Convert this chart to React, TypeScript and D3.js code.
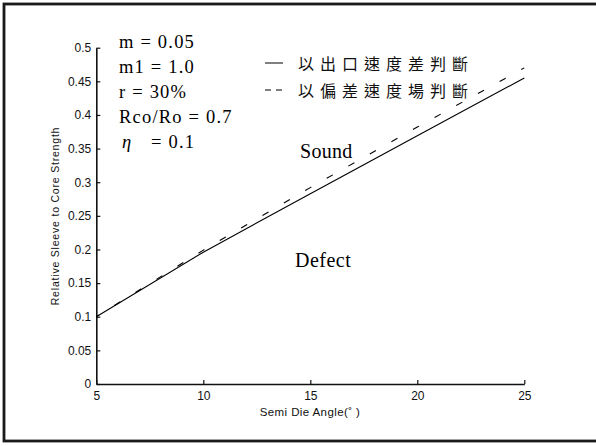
import { useEffect, useRef } from "react";
import * as d3 from "d3";

const angles = [5, 10, 15, 20, 25];
const outletSpeedDiff = [0.1, 0.196, 0.283, 0.369, 0.455];
const deviationField = [0.1, 0.199, 0.292, 0.382, 0.47];
const xTicks = [5, 10, 15, 20, 25];
const yTicks = [0, 0.05, 0.1, 0.15, 0.2, 0.25, 0.3, 0.35, 0.4, 0.45, 0.5];
const params = ["m = 0.05", "m1 = 1.0", "r = 30%", "Rco/Ro = 0.7"];
const legendLabels = ["以出口速度差判斷", "以偏差速度場判斷"];

const serif = "'Liberation Serif', 'Times New Roman', serif";
const sans = "'Liberation Sans', Arial, sans-serif";
const cjk = "'Noto Sans CJK TC', 'Noto Sans CJK SC', sans-serif";

const App = () => {
  const ref = useRef<SVGSVGElement>(null);

  useEffect(() => {
    d3.select(ref.current).selectAll("*").remove();
    const width = 596;
    const height = 446;
    const svg = d3.select(ref.current).attr("width", width).attr("height", height);

    svg.append("rect").attr("width", width).attr("height", height).attr("fill", "#fff");

    // outer frame (right side runs off the picture)
    svg
      .append("rect")
      .attr("x", 4)
      .attr("y", 4)
      .attr("width", 640)
      .attr("height", 437)
      .attr("fill", "none")
      .attr("stroke", "#1a1a1a")
      .attr("stroke-width", 2.8);

    const x = d3.scaleLinear().domain([5, 25]).range([96.3, 524.3]);
    const y = d3.scaleLinear().domain([0, 0.5]).range([384, 47.7]);

    const xAxis = svg
      .append("g")
      .attr("transform", `translate(0,${y(0)})`)
      .call(d3.axisBottom(x).tickValues(xTicks).tickSize(-4).tickSizeOuter(0).tickPadding(7));
    const yAxis = svg
      .append("g")
      .attr("transform", `translate(${x(5)},0)`)
      .call(
        d3
          .axisLeft(y)
          .tickValues(yTicks)
          .tickSize(-4)
          .tickSizeOuter(0)
          .tickPadding(5)
          .tickFormat((d) => String(+d))
      );
    [xAxis, yAxis].forEach((a) => {
      a.select(".domain").attr("stroke", "#111").attr("stroke-width", 1.6);
      a.selectAll(".tick line").attr("stroke", "#111").attr("stroke-width", 1.2);
      a.selectAll(".tick text")
        .attr("fill", "#111")
        .style("font-family", sans)
        .style("font-size", "12px");
    });

    svg
      .append("text")
      .attr("x", 310)
      .attr("y", 416)
      .attr("text-anchor", "middle")
      .style("font-family", sans)
      .style("font-size", "11.5px")
      .style("letter-spacing", "0.4px")
      .attr("fill", "#111")
      .text("Semi Die Angle(˚ )");

    svg
      .append("text")
      .attr("transform", `translate(59,216) rotate(-90)`)
      .attr("text-anchor", "middle")
      .style("font-family", sans)
      .style("font-size", "10.5px")
      .style("letter-spacing", "0.8px")
      .attr("fill", "#111")
      .text("Relative Sleeve to Core Strength");

    const line = d3
      .line<number>()
      .x((_, i) => x(angles[i]))
      .y((d) => y(d));

    svg
      .append("path")
      .datum(outletSpeedDiff)
      .attr("d", line)
      .attr("fill", "none")
      .attr("stroke", "#000")
      .attr("stroke-width", 1.1);

    const dashed = svg
      .append("path")
      .datum(deviationField)
      .attr("d", line)
      .attr("fill", "none")
      .attr("stroke", "#000")
      .attr("stroke-width", 1.1);
    const node = dashed.node() as SVGPathElement;
    const period = node.getTotalLength() / (angles[angles.length - 1] - angles[0]);
    const dash = 7;
    dashed
      .attr("stroke-dasharray", `${dash} ${period - dash}`)
      .attr("stroke-dashoffset", dash / 2);

    // parameter block
    const pg = svg
      .append("g")
      .style("font-family", serif)
      .style("font-size", "18.5px")
      .style("letter-spacing", "1.2px")
      .attr("fill", "#000");
    params.forEach((p, i) => {
      pg.append("text").attr("x", 119).attr("y", 48 + i * 25).text(p);
    });
    pg.append("text").attr("x", 122).attr("y", 148).style("font-style", "italic").text("η");
    pg.append("text").attr("x", 151).attr("y", 148).text("= 0.1");

    // legend
    const lg = svg.append("g");
    legendLabels.forEach((label, i) => {
      const yy = 63 + i * 27;
      lg.append("line")
        .attr("x1", 265)
        .attr("x2", 283)
        .attr("y1", yy)
        .attr("y2", yy)
        .attr("stroke", "#000")
        .attr("stroke-width", 1)
        .attr("stroke-dasharray", i === 1 ? "6 5" : null);
      lg.append("text")
        .attr("x", 298)
        .attr("y", yy + 7)
        .style("font-family", cjk)
        .style("font-size", "16px")
        .style("letter-spacing", "6px")
        .attr("fill", "#111")
        .text(label);
    });

    svg
      .append("text")
      .attr("x", 300)
      .attr("y", 158)
      .style("font-family", serif)
      .style("font-size", "20px")
      .style("letter-spacing", "0.3px")
      .text("Sound");
    svg
      .append("text")
      .attr("x", 295)
      .attr("y", 267)
      .style("font-family", serif)
      .style("font-size", "20px")
      .style("letter-spacing", "0.5px")
      .text("Defect");
  }, []);

  return <svg ref={ref} style={{ position: "absolute", left: 0, top: 0 }}></svg>;
};

export default App;
